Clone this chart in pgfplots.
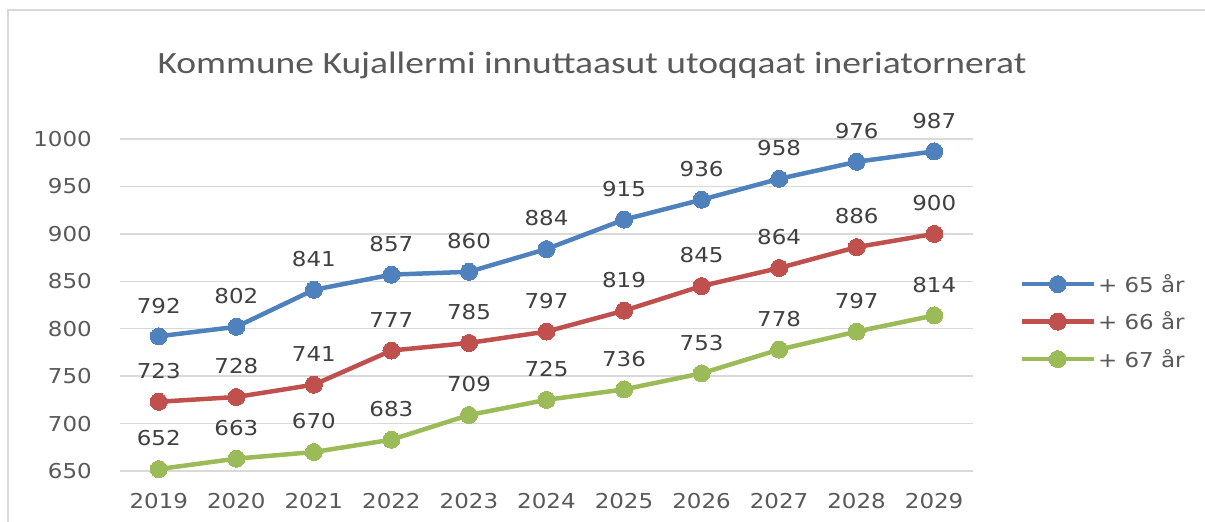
\documentclass[border=0pt]{standalone}
\usepackage{fontspec}
\setmainfont{DejaVu Sans}[FakeStretch=1.12]
\newfontfamily\titlefont{Carlito}[FakeStretch=1.21]
\usepackage{pgfplots}
\pgfplotsset{compat=1.18}
\definecolor{SerBlue}{HTML}{4F81BD}
\definecolor{SerRed}{HTML}{C0504D}
\definecolor{SerGreen}{HTML}{9BBB59}
\definecolor{GridGray}{HTML}{D9D9D9}
\definecolor{TickGray}{HTML}{595959}
\definecolor{LabGray}{HTML}{404040}

\begin{document}
\begin{tikzpicture}
\path[use as bounding box] (0,0) rectangle (1205bp,522bp);
\draw[GridGray, line width=2bp] (8bp,-2bp) -- (8bp,512bp) -- (1210bp,512bp);
\node[TickGray, font=\titlefont\fontsize{31bp}{36bp}\selectfont] at (592bp,457bp)
  {Kommune Kujallermi innuttaasut utoqqaat ineriatornerat};
\begin{axis}[
  at={(120bp,51bp)}, anchor=south west,
  scale only axis,
  width=853bp, height=332bp,
  xmin=2018.5, xmax=2029.5,
  ymin=650, ymax=1000,
  xtick={2019,...,2029},
  ytick={650,700,...,1000},
  /pgf/number format/assume math mode=true,
  /pgf/number format/set thousands separator={},
  axis line style={draw=none},
  major tick length=0pt,
  ymajorgrids,
  grid style={GridGray, line width=1.5bp},
  tick label style={TickGray, font=\fontsize{20.5bp}{24bp}\selectfont},
  yticklabel style={inner sep=0pt, xshift=-26bp},
  xticklabel style={inner sep=0pt, yshift=-20bp},
  clip=false,
  line width=4.5bp,
  mark size=8.5bp,
  nodes near coords,
  every node near coord/.append style={LabGray, font=\fontsize{20.5bp}{24bp}\selectfont,
    anchor=south, inner sep=0pt, yshift=23bp},
  legend style={at={(1.052,0.45)}, anchor=west, draw=none, fill=none,
    font=\fontsize{20.5bp}{24bp}\selectfont, text=TickGray, row sep=14bp,
    inner sep=0pt},
  legend cell align=left,
  legend image code/.code={
    \draw[#1, mark repeat=2, mark phase=2] plot coordinates {(0bp,0bp) (36bp,0bp) (72bp,0bp)};
  },
]
\addplot[SerBlue, mark=*, mark options={fill=SerBlue, line width=0pt}] coordinates {
  (2019,792) (2020,802) (2021,841) (2022,857) (2023,860) (2024,884)
  (2025,915) (2026,936) (2027,958) (2028,976) (2029,987)
};
\addlegendentry{+ 65 år}
\addplot[SerRed, mark=*, mark options={fill=SerRed, line width=0pt}] coordinates {
  (2019,723) (2020,728) (2021,741) (2022,777) (2023,785) (2024,797)
  (2025,819) (2026,845) (2027,864) (2028,886) (2029,900)
};
\addlegendentry{+ 66 år}
\addplot[SerGreen, mark=*, mark options={fill=SerGreen, line width=0pt}] coordinates {
  (2019,652) (2020,663) (2021,670) (2022,683) (2023,709) (2024,725)
  (2025,736) (2026,753) (2027,778) (2028,797) (2029,814)
};
\addlegendentry{+ 67 år}
\end{axis}
\end{tikzpicture}
\end{document}
